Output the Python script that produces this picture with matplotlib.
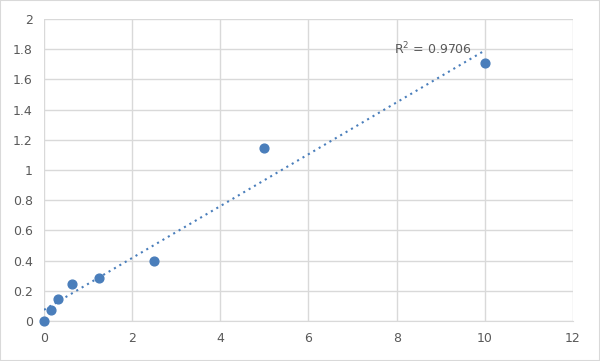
import numpy as np
import matplotlib
matplotlib.use('Agg')
import matplotlib.pyplot as plt

# standard curve points
conc = [0, 0.156, 0.3125, 0.625, 1.25, 2.5, 5, 10]
od = [0.0, 0.073, 0.146, 0.245, 0.285, 0.397, 1.146, 1.708]
x_ticks = [0, 2, 4, 6, 8, 10, 12]
y_ticks = [0, 0.2, 0.4, 0.6, 0.8, 1, 1.2, 1.4, 1.6, 1.8, 2]
r2_label = 'R$^2$ = 0.9706'

blue = '#4a7ebb'
grid_col = '#d9d9d9'
text_col = '#595959'

fig = plt.figure(figsize=(6, 3.61), dpi=100)
ax = fig.add_axes([0.0733, 0.1108, 0.8817, 0.8365])

# linear trendline
slope, icpt = np.polyfit(conc, od, 1)
xl = np.array([min(conc), max(conc)])
ax.plot(xl, slope * xl + icpt, linestyle=(0, (1, 2)), color=blue, linewidth=1.5, zorder=2)
ax.scatter(conc, od, s=40, color=blue, zorder=3, clip_on=False)

ax.text(9.72, 1.80, r2_label, ha='right', va='center',
        fontsize=9, color=text_col)

ax.set_xlim(0, 12)
ax.set_ylim(0, 2)
ax.set_xticks(x_ticks)
ax.set_yticks(y_ticks)
ax.set_xticklabels([str(v) for v in x_ticks])
ax.set_yticklabels(['0', '0.2', '0.4', '0.6', '0.8', '1', '1.2', '1.4', '1.6', '1.8', '2'])
ax.grid(True, color=grid_col, linewidth=1)
ax.set_axisbelow(True)
for s in ['top', 'right', 'left']:
    ax.spines[s].set_visible(False)
ax.spines['bottom'].set_color(grid_col)
ax.tick_params(length=0, colors=text_col, labelsize=9, pad=8)

fig.patches.append(plt.Rectangle((0, 0), 1, 1, transform=fig.transFigure,
                                 fill=False, edgecolor=grid_col, linewidth=1.5))

fig.savefig('out.png', dpi=100)
